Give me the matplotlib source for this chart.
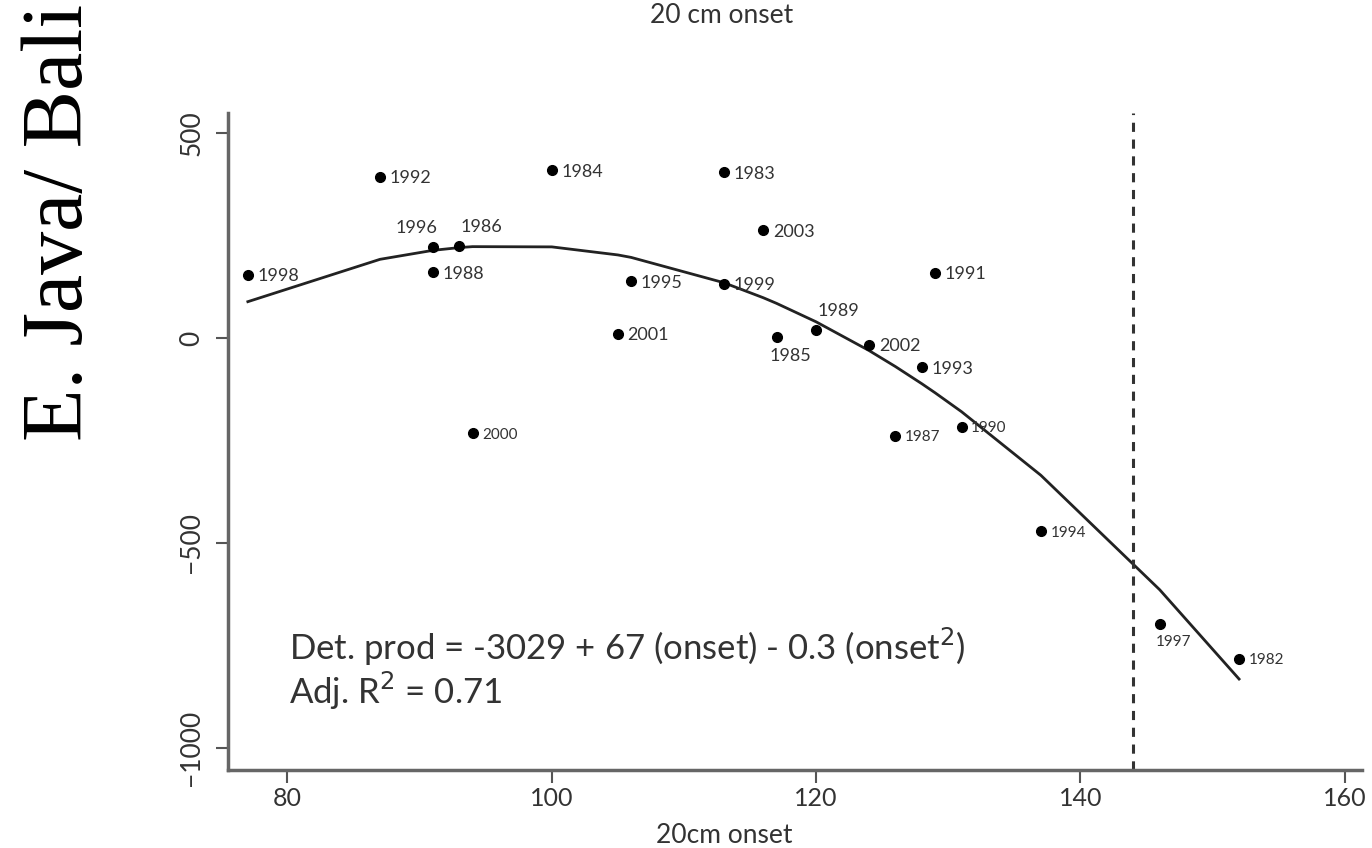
import numpy as np
import matplotlib.pyplot as plt

# 20cm onset (day) and detrended production, one point per year
years = ["1998", "1992", "1996", "1986", "1988", "1984", "2000", "2001", "1995",
         "1983", "1999", "2003", "1985", "1989", "2002", "1993", "1991", "1987",
         "1990", "1994", "1997", "1982"]
onset = [77, 87, 91, 93, 91, 100, 94, 105, 106,
         113, 113, 116, 117, 120, 124, 128, 129, 126,
         131, 137, 146, 152]
det_prod = [154, 393, 222, 224, 161, 410, -232, 10, 139,
            405, 132, 263, 2, 20, -17, -71, 159, -239,
            -217, -471, -698, -783]
onset_cutoff = 144

# where each year label sits relative to its point
label_side = {"1996": "ul", "1986": "ur", "1985": "b", "1989": "ur", "1997": "b"}
small_labels = ["2000", "1997", "1982", "1994", "1990", "1987"]

plt.rcParams['font.family'] = ['Lato', 'DejaVu Sans']

fig = plt.figure(figsize=(13.72, 8.48), dpi=100)
ax = fig.add_axes([0.1662, 0.092, 0.8265, 0.775])

ax.plot(onset, det_prod, 'o', color='black', markersize=7, zorder=3)

# quadratic fit, drawn through fitted values at the observed onsets
coef = np.polyfit(onset, det_prod, 2)
xs = np.sort(np.unique(onset))
ax.plot(xs, np.polyval(coef, xs), color='#222222', lw=2)

ax.axvline(onset_cutoff, color='#333333', lw=2.2, ls=(0, (3, 2.5)))

for yr, x, y in zip(years, onset, det_prod):
    side = label_side.get(yr, "r")
    fs = 11 if yr in small_labels else 13
    if side == "r":
        off, ha, va = (7, -1), 'left', 'center'
    elif side == "b":
        off, ha, va = (10, -8), 'center', 'top'
    elif side == "ul":
        off, ha, va = (-12, 8), 'center', 'bottom'
    else:
        off, ha, va = (16, 8), 'center', 'bottom'
    ax.annotate(yr, (x, y), xytext=off, textcoords='offset points',
                ha=ha, va=va, fontsize=fs, color='#333333')

ax.text(80.1, -754, "Det. prod = -3029 + 67 (onset) - 0.3 (onset$^2$)",
        fontsize=25, color='#333333', va='center')
ax.text(80.1, -862, "Adj. R$^2$ = 0.71", fontsize=25, color='#333333', va='center')

ax.set_xlim(75.5, 161.3)
ax.set_ylim(-1054, 550)
ax.set_xticks([80, 100, 120, 140, 160])
ax.set_yticks([500, 0, -500, -1000])
ax.set_yticklabels(["500", "0", "\u2212500", "\u22121000"], rotation=90, va='center')
ax.tick_params(axis='both', direction='out', length=9, width=1.5,
               colors='#555555', labelcolor='#333333', labelsize=18)
ax.tick_params(axis='y', labelsize=19, pad=8)
for s in ['top', 'right']:
    ax.spines[s].set_visible(False)
for s in ['left', 'bottom']:
    ax.spines[s].set_color('#666666')
    ax.spines[s].set_linewidth(2.5)
ax.set_xlabel("20cm onset", fontsize=19, color='#333333', labelpad=0)
ax.xaxis.set_label_coords(0.438, -0.08)

# panel title on the left and the cut-off label from the panel above
fig.text(0.045, 0.738, "E. Java/ Bali", rotation=90, fontsize=62,
         family='Liberation Serif', ha='center', va='center')
fig.text(0.526, 0.982, "20 cm onset", fontsize=19, color='#333333',
         ha='center', va='center')

fig.savefig('out.png', dpi=100)
